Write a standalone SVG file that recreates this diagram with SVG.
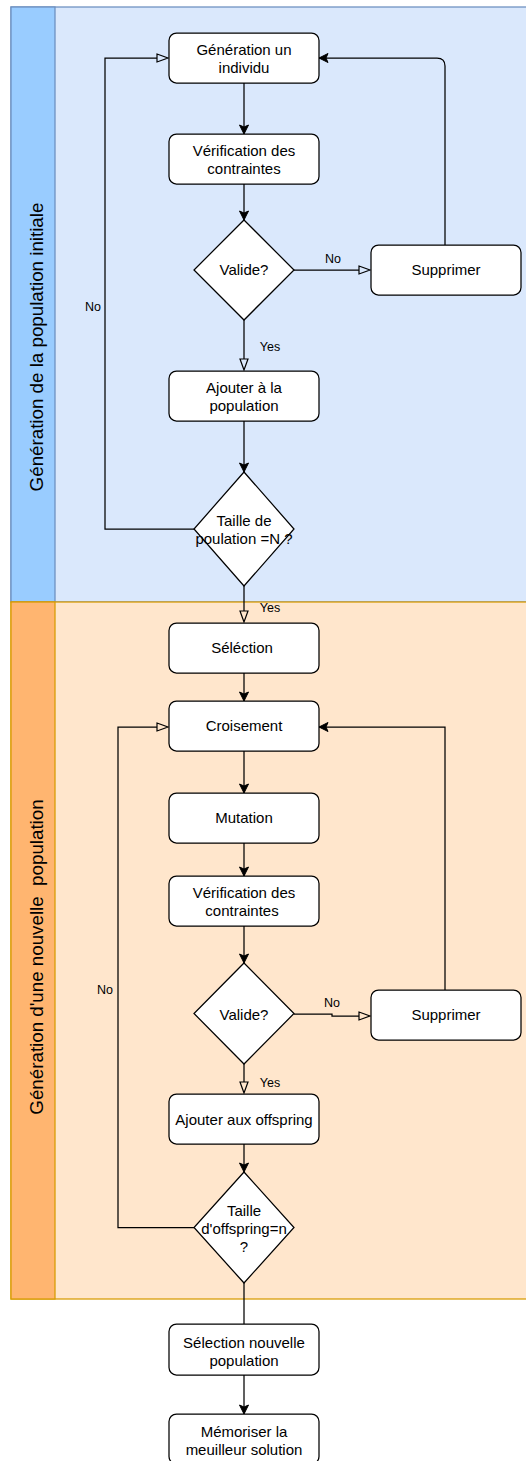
<svg xmlns="http://www.w3.org/2000/svg" width="526" height="1461" viewBox="0 0 526 1461">
  <style>
    .node { fill: #ffffff; stroke: #000000; stroke-width: 1.25; }
    .label { font-family: "Liberation Sans", Arial, sans-serif; font-size: 15px; fill: #000000; text-anchor: middle; }
    .elabel { font-family: "Liberation Sans", Arial, sans-serif; font-size: 12.5px; fill: #000000; text-anchor: middle; }
    .lane-title { font-family: "Liberation Sans", Arial, sans-serif; font-size: 18.75px; fill: #000000; text-anchor: middle; white-space: pre; }
    .edge { fill: none; stroke: #000000; stroke-width: 1.25; }
    .filled { marker-end: url(#arrowFilled); }
    .open { marker-end: url(#arrowOpen); }
  </style>
  <defs>
    <!-- classic filled arrowhead, tip on the path end -->
    <marker id="arrowFilled" markerUnits="userSpaceOnUse" viewBox="0 0 11 11" markerWidth="11" markerHeight="11" refX="10" refY="5.5" orient="auto">
      <path d="M1,1 L10,5.5 L1,10 L3,5.5 Z" fill="#000000" stroke="#000000" stroke-width="1"/>
    </marker>
    <!-- open triangle, base on the path end -->
    <marker id="arrowOpen" markerUnits="userSpaceOnUse" viewBox="0 0 13 11" markerWidth="13" markerHeight="11" refX="1" refY="5.5" orient="auto">
      <path d="M1,1.5 L12,5.5 L1,9.5 Z" fill="none" stroke="#000000" stroke-width="1.2"/>
    </marker>
  </defs>

  <!-- swimlane: initial population -->
  <g id="lane-initial">
    <rect x="11" y="7" width="530" height="595" fill="#dae8fc" stroke="#6c8ebf" stroke-width="1.25"/>
    <rect x="11" y="7" width="44" height="595" fill="#99ccff" stroke="#6c8ebf" stroke-width="1.25"/>
    <text class="lane-title" transform="translate(43,347) rotate(-90)">Génération de la population initiale</text>
  </g>

  <!-- swimlane: new population -->
  <g id="lane-new">
    <rect x="11" y="602" width="530" height="697" fill="#ffe6cc" stroke="#d79b00" stroke-width="1.25"/>
    <rect x="11" y="602" width="44" height="697" fill="#ffb570" stroke="#d79b00" stroke-width="1.25"/>
    <text class="lane-title" xml:space="preserve" transform="translate(43,957) rotate(-90)">Génération d'une nouvelle  population</text>
  </g>

  <!-- connectors -->
  <g id="connectors">
    <path class="edge filled" d="M244,83 L244,134"/>
    <path class="edge filled" d="M244,184 L244,220"/>
    <path class="edge open" d="M294,270 L359,270"/>
    <path class="edge filled" d="M445,245 L445,66 Q445,58 437,58 L319,58"/>
    <path class="edge open" d="M244,320 L244,359"/>
    <path class="edge filled" d="M244,421 L244,472"/>
    <path class="edge open" d="M194,529 L105,529 L105,58 L157,58"/>
    <path class="edge open" d="M244,586 L244,611"/>
    <path class="edge filled" d="M244,673 L244,701"/>
    <path class="edge filled" d="M244,751 L244,793"/>
    <path class="edge filled" d="M244,843 L244,876"/>
    <path class="edge filled" d="M244,926 L244,963"/>
    <path class="edge open" d="M294,1014 L332,1014 L332,1016 L359,1016"/>
    <path class="edge filled" d="M445,990 L445,727 L319,727"/>
    <path class="edge open" d="M244,1064 L244,1082"/>
    <path class="edge filled" d="M244,1144 L244,1172"/>
    <path class="edge open" d="M194,1227.5 L118,1227.5 L118,727 L157,727"/>
    <path class="edge" d="M244,1283 L244,1324"/>
    <path class="edge filled" d="M244,1375 L244,1414"/>

    <text class="elabel" x="333" y="262.5">No</text>
    <text class="elabel" x="270" y="350.5">Yes</text>
    <text class="elabel" x="93" y="311">No</text>
    <text class="elabel" x="270" y="611.5">Yes</text>
    <text class="elabel" x="332" y="1006.5">No</text>
    <text class="elabel" x="105" y="993.5">No</text>
    <text class="elabel" x="270" y="1086.5">Yes</text>
  </g>

  <!-- nodes -->
  <g id="gen-individu">
    <rect class="node" x="169" y="33" width="150" height="50" rx="7.5"/>
    <text class="label" x="244" y="55">Génération un</text>
    <text class="label" x="244" y="73">individu</text>
  </g>
  <g id="verif-1">
    <rect class="node" x="169" y="134" width="150" height="50" rx="7.5"/>
    <text class="label" x="244" y="156">Vérification des</text>
    <text class="label" x="244" y="174">contraintes</text>
  </g>
  <g id="valide-1">
    <polygon class="node" points="244,220 294,270 244,320 194,270"/>
    <text class="label" x="244" y="275">Valide?</text>
  </g>
  <g id="supprimer-1">
    <rect class="node" x="371" y="245" width="150" height="50" rx="7.5"/>
    <text class="label" x="446" y="275">Supprimer</text>
  </g>
  <g id="ajouter-pop">
    <rect class="node" x="169" y="371" width="150" height="50" rx="7.5"/>
    <text class="label" x="244" y="393">Ajouter à la</text>
    <text class="label" x="244" y="411">population</text>
  </g>
  <g id="taille-pop">
    <polygon class="node" points="244,472 294,529 244,586 194,529"/>
    <text class="label" x="244" y="526">Taille de</text>
    <text class="label" x="244" y="544">poulation =N ?</text>
  </g>
  <g id="selection">
    <rect class="node" x="169" y="623" width="150" height="50" rx="7.5"/>
    <text class="label" x="242" y="653">Séléction</text>
  </g>
  <g id="croisement">
    <rect class="node" x="169" y="701" width="150" height="50" rx="7.5"/>
    <text class="label" x="244" y="731">Croisement</text>
  </g>
  <g id="mutation">
    <rect class="node" x="169" y="793" width="150" height="50" rx="7.5"/>
    <text class="label" x="244" y="823">Mutation</text>
  </g>
  <g id="verif-2">
    <rect class="node" x="169" y="876" width="150" height="50" rx="7.5"/>
    <text class="label" x="244" y="898">Vérification des</text>
    <text class="label" x="242" y="916">contraintes</text>
  </g>
  <g id="valide-2">
    <polygon class="node" points="244,963 294,1013.5 244,1064 194,1013.5"/>
    <text class="label" x="244" y="1019.5">Valide?</text>
  </g>
  <g id="supprimer-2">
    <rect class="node" x="371" y="990" width="150" height="50" rx="7.5"/>
    <text class="label" x="446" y="1020">Supprimer</text>
  </g>
  <g id="ajouter-offspring">
    <rect class="node" x="169" y="1094" width="150" height="50" rx="7.5"/>
    <text class="label" x="244" y="1125">Ajouter aux offspring</text>
  </g>
  <g id="taille-offspring">
    <polygon class="node" points="244,1172 294,1227.5 244,1283 194,1227.5"/>
    <text class="label" x="244" y="1216">Taille</text>
    <text class="label" x="244" y="1234">d'offspring=n</text>
    <text class="label" x="244" y="1252">?</text>
  </g>
  <g id="selection-nouvelle">
    <rect class="node" x="169" y="1324" width="150" height="51" rx="7.5"/>
    <text class="label" x="244" y="1348">Sélection nouvelle</text>
    <text class="label" x="244" y="1366">population</text>
  </g>
  <g id="memoriser">
    <rect class="node" x="169" y="1414" width="150" height="50" rx="7.5"/>
    <text class="label" x="244" y="1437">Mémoriser la</text>
    <text class="label" x="244" y="1455">meuilleur solution</text>
  </g>
</svg>
